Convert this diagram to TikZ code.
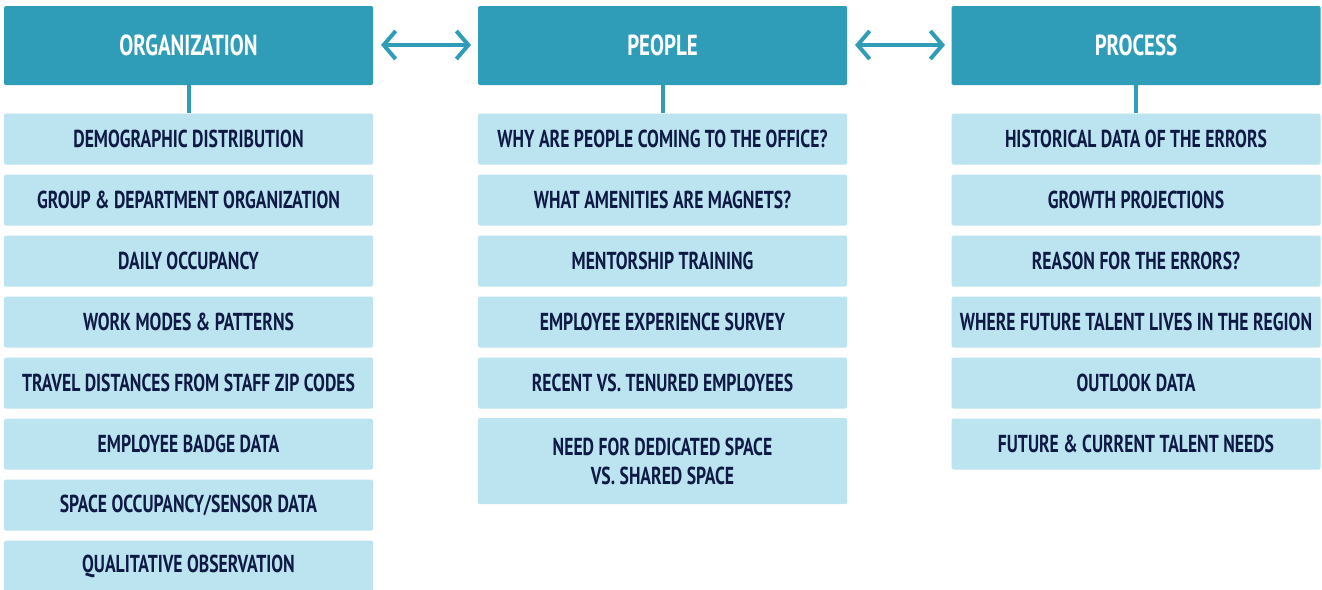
\documentclass[tikz,border=0pt]{standalone}
\usepackage{fontspec}
\setmainfont{PT Sans}[FakeStretch=0.72]
\usetikzlibrary{arrows.meta}
\definecolor{headblue}{HTML}{2F9DB8}
\definecolor{itemblue}{HTML}{BBE4F0}
\definecolor{inkblue}{HTML}{0E1A44}

\begin{document}
\begin{tikzpicture}[x=1pt,y=-1pt]
\tikzset{
  head/.style={rectangle,rounded corners=1.5pt,fill=headblue,text=white,
    minimum width=369pt,minimum height=79pt,inner sep=0pt,
    font=\fontsize{29}{32}\selectfont\bfseries},
  item/.style={rectangle,rounded corners=1.5pt,fill=itemblue,text=inkblue,
    minimum width=369pt,minimum height=51pt,inner sep=0pt,align=center,
    font=\fontsize{24.5}{29}\selectfont\bfseries},
  stem/.style={headblue,line width=4pt},
  link/.style={headblue,line width=4pt,{Straight Barb[length=12pt,width=28pt,line width=4pt]}-{Straight Barb[length=12pt,width=28pt,line width=4pt]}}
}
\useasboundingbox (0,0) rectangle (1322,589);
% column heads
\node [head] (org) at (188.5,45.5) {ORGANIZATION};
\node [head] (ppl) at (662.5,45.5) {PEOPLE};
\node [head] (prc) at (1136,45.5) {PROCESS};
\draw [link] (381,45) -- (471,45);
\draw [link] (855,45) -- (945,45);
% organization
\node [item] (org1) at (188.5,139) {DEMOGRAPHIC DISTRIBUTION};
\node [item] (org2) at (188.5,200) {GROUP \& DEPARTMENT ORGANIZATION};
\node [item] (org3) at (188.5,261) {DAILY OCCUPANCY};
\node [item] (org4) at (188.5,322) {WORK MODES \& PATTERNS};
\node [item] (org5) at (188.5,383) {TRAVEL DISTANCES FROM STAFF ZIP CODES};
\node [item] (org6) at (188.5,444) {EMPLOYEE BADGE DATA};
\node [item] (org7) at (188.5,505) {SPACE OCCUPANCY/SENSOR DATA};
\node [item] (org8) at (188.5,566) {QUALITATIVE OBSERVATION};
% people
\node [item] (ppl1) at (662.5,139) {WHY ARE PEOPLE COMING TO THE OFFICE?};
\node [item] (ppl2) at (662.5,200) {WHAT AMENITIES ARE MAGNETS?};
\node [item] (ppl3) at (662.5,261) {MENTORSHIP TRAINING};
\node [item] (ppl4) at (662.5,322) {EMPLOYEE EXPERIENCE SURVEY};
\node [item] (ppl5) at (662.5,383) {RECENT VS. TENURED EMPLOYEES};
\node [item,minimum height=86pt] (ppl6) at (662.5,461) {NEED FOR DEDICATED SPACE\\VS. SHARED SPACE};
% process
\node [item] (prc1) at (1136,139) {HISTORICAL DATA OF THE ERRORS};
\node [item] (prc2) at (1136,200) {GROWTH PROJECTIONS};
\node [item] (prc3) at (1136,261) {REASON FOR THE ERRORS?};
\node [item] (prc4) at (1136,322) {WHERE FUTURE TALENT LIVES IN THE REGION};
\node [item] (prc5) at (1136,383) {OUTLOOK DATA};
\node [item] (prc6) at (1136,444) {FUTURE \& CURRENT TALENT NEEDS};
% stems
\draw [stem] (org.south) -- (org1.north);
\draw [stem] (ppl.south) -- (ppl1.north);
\draw [stem] (prc.south) -- (prc1.north);
\end{tikzpicture}
\end{document}
